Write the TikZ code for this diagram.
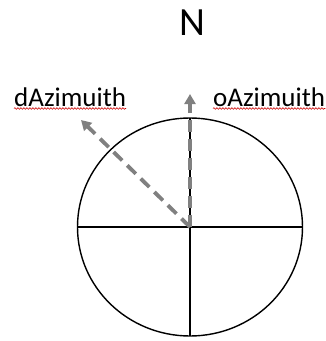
\documentclass[tikz,border=0pt]{standalone}
\usepackage{fontspec}
\setmainfont{Carlito}
\usetikzlibrary{arrows.meta,decorations.pathmorphing}
\begin{document}
\begin{tikzpicture}[x=1pt,y=-1pt,
  thinline/.style={black,line width=1.4pt},
  azarrow/.style={draw=black!50,line width=3.8pt,dash pattern=on 12pt off 7pt,
    -{Triangle[width=11pt,length=10pt]}},
  lbl/.style={font=\fontsize{27}{32}\selectfont,inner sep=0pt,anchor=base west},
  squig/.style={red!80!black,line width=0.6pt,decorate,
    decoration={snake,amplitude=0.8pt,segment length=3pt}}]
\useasboundingbox (0,0) rectangle (326,341);
\coordinate (c) at (190,227);
\draw[thinline] (c) ellipse [x radius=112.5, y radius=109];
\coordinate (l) at (77.5,227);
\coordinate (r) at (302.5,227);
\coordinate (t) at (190,118);
\coordinate (b) at (190,336);
\draw[thinline] (l) -- (r);
\draw[thinline] (t) -- (b);
\coordinate (otip) at (190,94);
\coordinate (dtip) at (81,120);
\draw[azarrow] (c) -- (otip);
\draw[azarrow] (c) -- (dtip);
\node[font=\fontsize{40}{46}\selectfont,inner sep=0pt,anchor=base] (n) at (192,35) {N};
\node[lbl] (d) at (14,106) {dAzimuith};
\node[lbl] (o) at (213,106) {oAzimuith};
\draw[squig] ([yshift=-2.5pt]d.base west) -- ([yshift=-2.5pt]d.base east);
\draw[squig] ([yshift=-2.5pt]o.base west) -- ([yshift=-2.5pt]o.base east);
\end{tikzpicture}
\end{document}
